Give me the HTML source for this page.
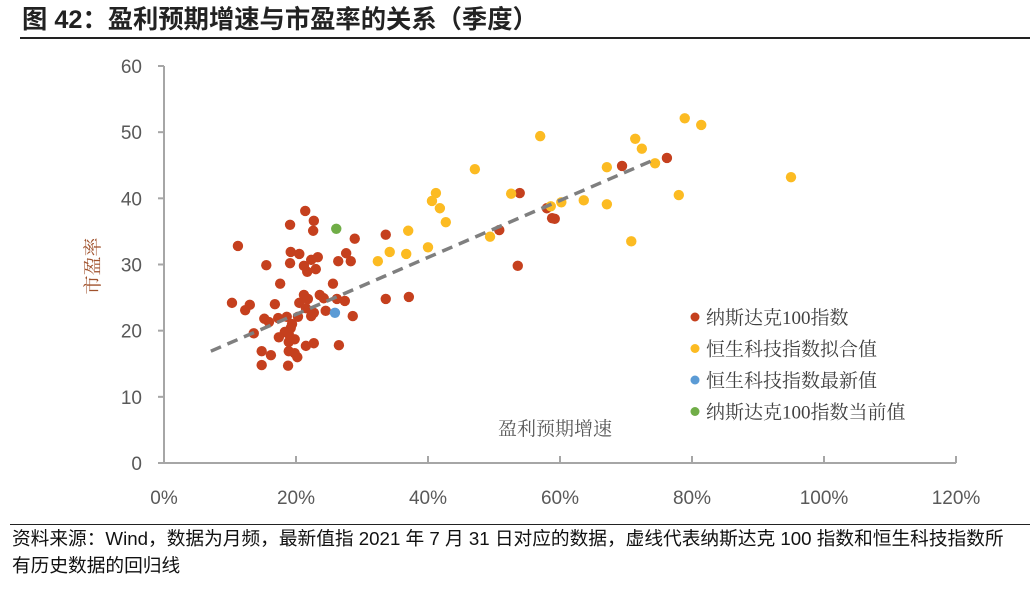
<!DOCTYPE html>
<html><head><meta charset="utf-8"><style>
body{margin:0;width:1030px;height:596px;background:#fff;overflow:hidden;position:relative;font-family:"Liberation Sans","Noto Sans CJK SC",sans-serif}
#title{position:absolute;left:22px;top:0px;font-size:25.3px;font-weight:bold;color:#222;white-space:nowrap}
#tline{position:absolute;left:20px;top:37px;width:1010px;height:2px;background:#222}
#fline{position:absolute;left:10px;top:524px;width:1020px;height:1px;background:#222}
.src{position:absolute;left:12px;font-size:18.7px;line-height:27px;color:#111;white-space:nowrap}
</style></head><body>
<div id="title">图 42：盈利预期增速与市盈率的关系（季度）</div>
<div id="tline"></div>
<svg id="chart" width="1030" height="596" style="position:absolute;left:0;top:0"></svg>
<div id="fline"></div>
<div class="src" style="top:525px">资料来源：Wind，数据为月频，最新值指 2021 年 7 月 31 日对应的数据，虚线代表纳斯达克 100 指数和恒生科技指数所<br>有历史数据的回归线</div>
<script>
const xTicks=[0,20,40,60,80,100,120];
const yTicks=[0,10,20,30,40,50,60];
const nasdaqX=[21.4,22.7,19.1,22.6,11.2,28.9,33.6,19.2,20.5,27.6,15.5,19.1,22.3,23.3,26.4,28.3,21.2,21.7,23.0,17.6,25.6,10.3,13.0,12.3,16.8,21.2,21.8,20.5,23.6,24.2,26.2,27.4,33.6,21.5,22.7,22.3,24.5,28.6,20.3,18.6,17.3,15.2,15.9,19.4,19.2,18.3,13.6,18.9,17.4,19.8,18.9,22.7,21.5,26.5,14.8,18.9,19.8,16.2,20.2,14.8,18.8,37.1,53.9,50.8,53.6,58.0,58.8,59.2,69.4,76.2];
const nasdaqY=[38.1,36.6,36.0,35.1,32.8,33.9,34.5,31.9,31.6,31.7,29.9,30.2,30.7,31.1,30.5,30.5,29.8,28.9,29.3,27.1,27.1,24.2,23.9,23.1,24.0,25.4,24.8,24.2,25.4,24.9,24.8,24.5,24.8,23.4,22.7,22.2,23.0,22.2,22.1,22.1,21.9,21.8,21.3,21.0,20.4,19.8,19.6,19.5,19.0,18.7,18.3,18.1,17.7,17.8,16.9,16.9,16.6,16.3,16.0,14.8,14.7,25.1,40.8,35.2,29.8,38.5,37.0,36.9,44.9,46.1];
const hstechX=[57.0,47.1,41.2,40.6,41.8,42.7,37.0,34.2,32.4,36.7,40.0,49.4,52.6,58.6,60.2,63.6,67.1,67.1,71.4,72.4,74.4,78.9,81.4,95.0,78.0,70.8];
const hstechY=[49.4,44.4,40.8,39.6,38.5,36.4,35.1,31.9,30.5,31.6,32.6,34.2,40.7,38.8,39.4,39.7,39.1,44.7,49.0,47.5,45.3,52.1,51.1,43.2,40.5,33.5];
const latestX=[25.9];const latestY=[22.7];
const currentX=[26.1];const currentY=[35.4];
const fitX=[7.1,74.2];const fitY=[16.9,45.8];
const legendLabels=["纳斯达克100指数","恒生科技指数拟合值","恒生科技指数最新值","纳斯达克100指数当前值"];
const colors=["#c5401e","#fcbb22","#5b9bd5","#70ad47"];
const NS="http://www.w3.org/2000/svg";const svg=document.getElementById('chart');
const X0=164,X1=956,Y0=463,Y1=66;
function sx(v){return X0+(v-0)/120*(X1-X0);}
function sy(v){return Y0-(v-0)/60*(Y0-Y1);}
function mk(t,a,p){const e=document.createElementNS(NS,t);for(const k in a)e.setAttribute(k,a[k]);(p||svg).appendChild(e);return e;}
const ax=mk('path',{d:`M${X0},${Y1} V${Y0} H${X1}`,stroke:'#a6a6a6','stroke-width':2,fill:'none'});


yTicks.forEach(v=>{const y=sy(v);
const t=mk('line',{x1:X0,x2:X0-6,y1:y,y2:y,stroke:'#a6a6a6','stroke-width':2});


const l=mk('text',{x:142,y:y+7,'text-anchor':'end','font-size':19,fill:'#595959','font-family':'Liberation Sans, sans-serif'});l.textContent=v;

});
xTicks.forEach(v=>{const x=sx(v);
const t=mk('line',{x1:x,x2:x,y1:Y0,y2:Y0-7,stroke:'#a6a6a6','stroke-width':2});


const l=mk('text',{x:x,y:504,'text-anchor':'middle','font-size':19,fill:'#595959','font-family':'Liberation Sans, sans-serif'});l.textContent=v+'%';

});
const yt=mk('text',{x:0,y:0,transform:'translate(99,266) rotate(-90)','text-anchor':'middle','font-size':19,fill:'#a0522d','font-family':'Liberation Serif, Noto Serif CJK SC, serif'});yt.textContent='市盈率';


const xt=mk('text',{x:555,y:435,'text-anchor':'middle','font-size':19,fill:'#595959','font-family':'Liberation Serif, Noto Serif CJK SC, serif'});xt.textContent='盈利预期增速';


function pts(xs,ys,c,name){xs.forEach((v,i)=>{const p=mk('circle',{cx:sx(v),cy:sy(ys[i]),r:5.2,fill:c});

});}
pts(nasdaqX,nasdaqY,colors[0],'nasdaq-point');
pts(hstechX,hstechY,colors[1],'hstech-fit-point');
const fl=mk('line',{x1:sx(fitX[0]),y1:sy(fitY[0]),x2:sx(fitX[1]),y2:sy(fitY[1]),stroke:'#7f7f7f','stroke-width':3.5,'stroke-dasharray':'11,7'});


pts(latestX,latestY,colors[2],'hstech-latest-point');
pts(currentX,currentY,colors[3],'nasdaq-current-point');
legendLabels.forEach((s,i)=>{const y=317+i*31.5;
const g=mk('g',{});


mk('circle',{cx:695,cy:y,r:4.5,fill:colors[i]},g);
const t=mk('text',{x:706,y:y+7,'font-size':19,fill:'#404040','font-family':'Liberation Serif, Noto Serif CJK SC, serif'},g);t.textContent=s;});
</script>
</body></html>
